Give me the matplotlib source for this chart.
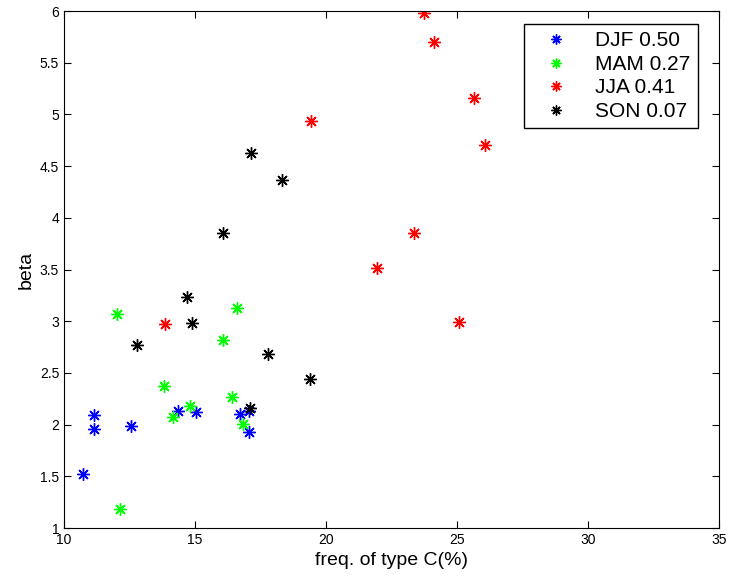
import matplotlib
matplotlib.use('Agg')
import matplotlib.pyplot as plt

# frequency of type C (%) and beta, per season
djf_x = [10.72, 11.15, 11.15, 12.56, 14.36, 15.04, 16.70, 17.05, 17.05]
djf_y = [1.52, 2.09, 1.96, 1.99, 2.13, 2.12, 2.10, 2.13, 1.93]

mam_x = [12.03, 12.15, 13.83, 14.17, 14.82, 16.07, 16.40, 16.62, 16.83]
mam_y = [3.07, 1.18, 2.37, 2.07, 2.18, 2.82, 2.27, 3.13, 2.01]

jja_x = [13.86, 19.44, 21.95, 23.35, 23.74, 24.13, 25.07, 25.63, 26.05]
jja_y = [2.97, 4.94, 3.51, 3.85, 5.98, 5.70, 2.99, 5.16, 4.70]

son_x = [12.79, 14.69, 14.89, 16.08, 17.11, 17.12, 17.77, 18.31, 19.39]
son_y = [2.77, 3.23, 2.98, 3.85, 2.16, 4.63, 2.68, 4.37, 2.44]

labels = ['DJF 0.50', 'MAM 0.27', 'JJA 0.41', 'SON 0.07']

plt.rcParams['font.family'] = ['Liberation Sans', 'DejaVu Sans']

fig = plt.figure(figsize=(7.33, 5.77), dpi=100)
ax = fig.add_axes([0.0873, 0.0849, 0.8936, 0.8960])

star = (8, 2, 0)  # matlab-like asterisk
ax.plot(djf_x, djf_y, marker=star, ls='none', color='blue', markersize=9, mew=1, label=labels[0])
ax.plot(mam_x, mam_y, marker=star, ls='none', color='#00ff00', markersize=9, mew=1, label=labels[1])
ax.plot(jja_x, jja_y, marker=star, ls='none', color='red', markersize=9, mew=1, label=labels[2])
ax.plot(son_x, son_y, marker=star, ls='none', color='black', markersize=9, mew=1, label=labels[3])

ax.set_xlim(10, 35)
ax.set_ylim(1, 6)
ax.set_xticks([10, 15, 20, 25, 30, 35])
ax.set_yticks([1, 1.5, 2, 2.5, 3, 3.5, 4, 4.5, 5, 5.5, 6])
ax.set_yticklabels(['1', '1.5', '2', '2.5', '3', '3.5', '4', '4.5', '5', '5.5', '6'])
ax.tick_params(direction='in', top=True, right=True, labelsize=10, length=5)

ax.set_xlabel('freq. of type C(%)', fontsize=14)
ax.set_ylabel('beta', fontsize=14)

leg = ax.legend(loc='upper right', fontsize=15, fancybox=False, framealpha=1,
                edgecolor='black', bbox_to_anchor=(0.968, 0.975), borderaxespad=0,
                labelspacing=0.22, handletextpad=0.7, handlelength=2.4,
                borderpad=0.35, markerscale=0.8)
leg.get_frame().set_linewidth(1)

fig.savefig('out.png', dpi=100)
